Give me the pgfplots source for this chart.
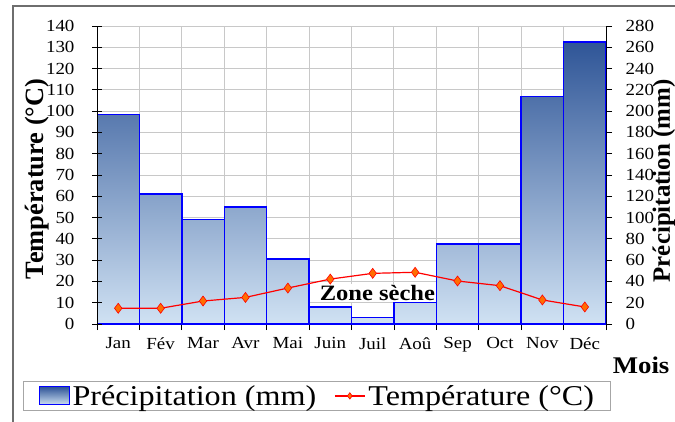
\documentclass[border=0pt]{standalone}
\usepackage{fontspec}
\setmainfont{Liberation Serif}[FakeStretch=1.12]
\newfontfamily\rotfont{Liberation Serif}
\usepackage{pgfplots}
\usepackage{pgfplotstable}
\pgfplotsset{compat=1.18}
\definecolor{bartop}{RGB}{47,85,151}
\definecolor{barbot}{RGB}{208,226,243}
\definecolor{gridc}{RGB}{200,200,200}
\definecolor{mkfill}{RGB}{255,110,0}
\definecolor{framec}{RGB}{110,110,110}

\pgfplotstableread{
x P T
1 197 7.4
2 122 7.4
3 98 10.8
4 110 12.5
5 61 16.9
6 16 21.1
7 6 23.8
8 20 24.3
9 75 20.2
10 75 18.0
11 214 11.3
12 265 8.0
}\climdata

\begin{document}
\begin{tikzpicture}[x=1bp,y=1bp]
\useasboundingbox (0,0) rectangle (675,421);
\draw[framec, line width=1.3bp] (13,-30) -- (13,415) -- (700,415);

% Precipitation axis (right)
\begin{axis}[
  at={(97bp,97bp)}, anchor=south west,
  scale only axis, width=509bp, height=298bp,
  xmin=0.5, xmax=12.5, ymin=0, ymax=280,
  axis x line*=bottom, axis y line*=right,
  axis line style={-, black, line width=0.9bp},
  xtick={0.5,1.5,...,12.5},
  xticklabels={},
  xmajorgrids=true,
  ytick={0,20,...,280},
  ymajorgrids=true,
  major grid style={gridc, line width=0.9bp},
  tick align=outside,
  major tick length=6bp,
  tick style={black, line width=0.8bp},
  tick label style={font=\fontsize{17}{17}\selectfont},
  /pgf/number format/assume math mode=true,
  yticklabel style={xshift=10bp},
  xlabel={Mois},
  ylabel={Précipitation (mm)},
  every axis x label/.style={at={(axis description cs:1.069,-0.165)}, anchor=base, font=\bfseries\fontsize{24}{24}\selectfont},
  every axis y label/.style={at={(axis description cs:1.1135,0.48)}, anchor=center, rotate=90, font=\rotfont\bfseries\fontsize{25}{27}\selectfont},
]
\node[fill=white, inner sep=1bp, font=\bfseries\fontsize{22}{22}\selectfont] at (axis cs:7.11,29.2) {Zone sèche};
\addplot[ybar, bar width=1, bar shift=0pt, draw=blue, line width=1.4bp, top color=bartop, bottom color=barbot] table[x=x, y=P] {\climdata};
\end{axis}

% Month labels
\begin{axis}[
  at={(97bp,97bp)}, anchor=south west,
  scale only axis, width=509bp, height=298bp,
  xmin=0.5, xmax=12.5, ymin=0, ymax=1,
  axis y line=none, axis x line*=bottom,
  axis line style={draw=none},
  xtick={1,...,12},
  xticklabels={Jan,Fév,Mar,Avr,Mai,Juin,Juil,Aoû,Sep,Oct,Nov,Déc},
  major tick length=0bp,
  tick label style={font=\fontsize{17}{17}\selectfont},
  xticklabel style={yshift=-10bp},
]
\end{axis}

% Temperature axis (left)
\begin{axis}[
  at={(97bp,97bp)}, anchor=south west,
  scale only axis, width=509bp, height=298bp,
  xmin=0.5, xmax=12.5, ymin=0, ymax=140,
  axis x line=none, axis y line*=left,
  axis line style={-, black, line width=0.9bp},
  ytick={0,10,...,140},
  tick align=center, major tick length=10bp,
  tick style={black, line width=0.8bp},
  tick label style={font=\fontsize{17}{17}\selectfont},
  /pgf/number format/assume math mode=true,
  yticklabel style={xshift=-14bp},
  ylabel={Température (°C)},
  every axis y label/.style={at={(axis description cs:-0.118,0.487)}, anchor=center, rotate=90, font=\rotfont\bfseries\fontsize{26.5}{28}\selectfont},
  legend style={at={(axis description cs:-0.145,-0.292)}, anchor=south west,
    draw=gray!70, line width=0.8bp, font=\fontsize{28.8}{29}\selectfont,
    inner xsep=15bp, inner ysep=3bp,
    nodes={inner sep=1bp},
    /tikz/every odd column/.append style={column sep=2bp}},
  legend columns=2,
]
\addlegendimage{legend image code/.code={\draw[top color=bartop, bottom color=barbot, draw=blue, line width=1bp] (0bp,-9bp) rectangle (30bp,9bp);}}
\addlegendentry{Précipitation (mm)\rule{17bp}{0pt}}
\addplot[red, line width=1.2bp, mark=diamond*, mark size=5bp,
  mark options={fill=mkfill, draw=red, line width=0.6bp},
  legend image code/.code={\draw[mark repeat=2, mark phase=2, mark size=3.2bp] plot coordinates {(0bp,0bp)(15bp,0bp)(30bp,0bp)};}]
  table[x=x, y=T] {\climdata};
\addlegendentry{Température (°C)}
\end{axis}
\end{tikzpicture}
\end{document}
